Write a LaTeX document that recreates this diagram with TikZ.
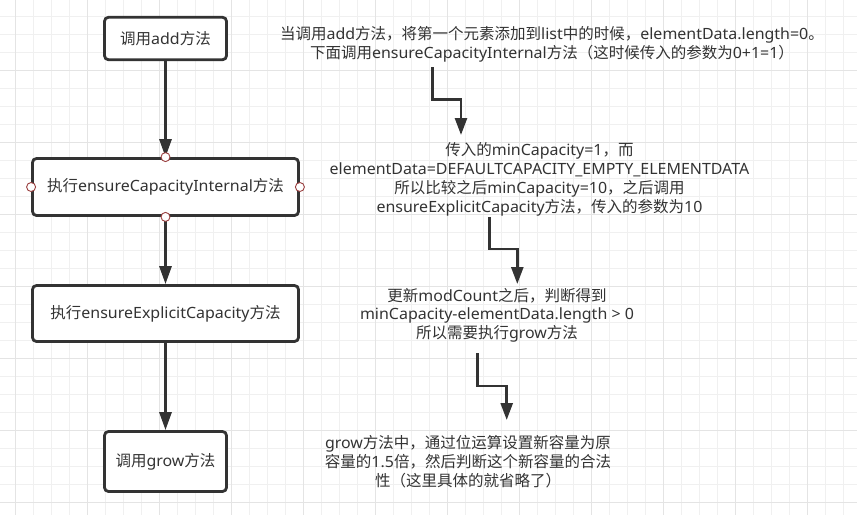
\documentclass[tikz,border=0pt]{standalone}
\usepackage{fontspec}
\setmainfont{Noto Sans}[FakeStretch=1.03]
\newfontfamily\cjkfont{Noto Sans CJK SC}
\usetikzlibrary{arrows.meta}
\XeTeXinterchartokenstate=1
\newXeTeXintercharclass\CJKcls
\newcount\cc
\cc="3000 \loop \XeTeXcharclass\cc=\CJKcls \advance\cc 1 \ifnum\cc<"A000 \repeat
\cc="FF00 \loop \XeTeXcharclass\cc=\CJKcls \advance\cc 1 \ifnum\cc<"FFF0 \repeat
\XeTeXinterchartoks 0 \CJKcls = {\cjkfont}
\XeTeXinterchartoks 4095 \CJKcls = {\cjkfont}
\XeTeXinterchartoks \CJKcls 0 = {\rmfamily}
\XeTeXinterchartoks \CJKcls 4095 = {\rmfamily}
\definecolor{ink}{HTML}{333333}
\definecolor{gminor}{HTML}{F0F0F0}
\definecolor{gmajor}{HTML}{E4E4E4}
\definecolor{handle}{HTML}{9A3F3F}
\tikzset{
  minorgrid/.style={gminor, line width=1pt},
  majorgrid/.style={gmajor, line width=1pt},
  box/.style={draw=ink, fill=white, line width=2.8pt, rounded corners=4pt,
    text=ink, font=\fontsize{15.5}{18.8}\selectfont, inner sep=0pt},
  note/.style={text=ink, font=\fontsize{15.5}{18.8}\selectfont, align=center, inner sep=0pt},
  flow/.style={draw=ink, line width=2.8pt, -{Triangle[width=12pt,length=18pt]}},
  elbow/.style={draw=ink, line width=2.6pt, -{Triangle[width=12pt,length=17pt]}},
  hnd/.style={circle, draw=handle, fill=white, line width=0.9pt, minimum size=9pt, inner sep=0pt}
}
\begin{document}
\begin{tikzpicture}[x=1pt,y=-1pt]
\useasboundingbox (0,0) rectangle (857,515);
\fill[white] (0,0) rectangle (857,515);
% grid
\foreach \i in {0,...,46} \draw[minorgrid] ({15.5+18*\i},0) -- ({15.5+18*\i},515);
\foreach \j in {0,...,27} \draw[minorgrid] (0,{16+18*\j}) -- (857,{16+18*\j});
\foreach \i in {0,...,11} \draw[majorgrid] ({15.5+72*\i},0) -- ({15.5+72*\i},515);
\foreach \j in {0,...,6} \draw[majorgrid] (0,{70+72*\j}) -- (857,{70+72*\j});
% boxes
\node[box, minimum width=122pt, minimum height=42.5pt] (b1) at (165.5,38.5) {调用add方法};
\node[box, minimum width=266pt, minimum height=57pt] (b2) at (165.5,187) {执行ensureCapacityInternal方法};
\node[box, minimum width=266pt, minimum height=56pt] (b3) at (165.5,313.5) {执行ensureExplicitCapacity方法};
\node[box, minimum width=122pt, minimum height=60pt] (b4) at (165.5,461.5) {调用grow方法};
% main arrows
\draw[flow] (b1.south) -- (b2.north);
\draw[flow] (b2.south) -- (b3.north);
\draw[flow] (b3.south) -- (b4.north);
% handles
\node[hnd] (h1) at (b2.north) {};
\node[hnd] (h2) at (b2.south) {};
\node[hnd] (h3) at (b2.west) {};
\node[hnd] (h4) at (b2.east) {};
% notes
\node[note] (t1) at (552,44.2) {当调用add方法，将第一个元素添加到list中的时候，elementData.length=0。\\下面调用ensureCapacityInternal方法（这时候传入的参数为0+1=1）};
\node[note] (t2) at (539.5,179.3) {传入的minCapacity=1，而\\elementData=DEFAULTCAPACITY\_EMPTY\_ELEMENTDATA\\所以比较之后minCapacity=10，之后调用\\ensureExplicitCapacity方法，传入的参数为10};
\node[note] (t3) at (497,315.3) {更新modCount之后，判断得到\\minCapacity-elementData.length > 0\\所以需要执行grow方法};
\node[note] (t4) at (468,461.8) {grow方法中，通过位运算设置新容量为原\\容量的1.5倍，然后判断这个新容量的合法\\性（这里具体的就省略了）};
% elbow arrows
\coordinate (a1s) at (432.3,67);
\coordinate (a1e) at (461,135);
\coordinate (a2s) at (489.3,217);
\coordinate (a2e) at (517.3,284);
\coordinate (a3s) at (477.7,353);
\coordinate (a3e) at (506.7,420);
\draw[elbow] (a1s) -- ++(0,32.3) -| (a1e);
\draw[elbow] (a2s) -- ++(0,32) -| (a2e);
\draw[elbow] (a3s) -- ++(0,33) -| (a3e);
\end{tikzpicture}
\end{document}
